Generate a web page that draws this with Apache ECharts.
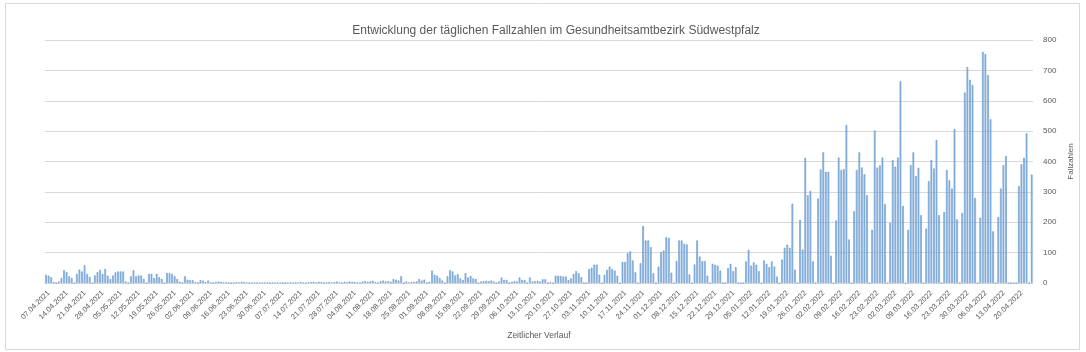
<!DOCTYPE html>
<html>
<head>
<meta charset="utf-8">
<script src="https://cdn.jsdelivr.net/npm/echarts@6/dist/echarts.min.js"></script>
<style>
  html, body { margin: 0; padding: 0; background: #fff; }
  #chart { width: 1086px; height: 352px; }
</style>
</head>
<body>
<div id="chart"></div>
<script>
// Tägliche Fallzahlen, ab 07.04.2021, ein Wert pro Tag
const apr21 = [27, 24, 19, 3, 0, 5, 16, 42, 36, 22, 16, 0, 30, 44, 38, 58, 30, 20, 0, 25, 36, 43, 30, 46]
const mai21 = [24, 13, 25, 35, 38, 38, 38, 5, 0, 22, 42, 22, 25, 25, 13, 0, 30, 30, 16, 30, 19, 13, 0, 33, 33, 30, 22, 13, 4, 0, 22]
const jun21 = [11, 9, 9, 3, 0, 9, 8, 3, 8, 2, 0, 3, 5, 4, 2, 3, 1, 0, 2, 3, 2, 4, 3, 2, 0, 1, 2, 1, 2, 1]
const jul21 = [2, 1, 0, 1, 1, 2, 1, 0, 0, 1, 2, 1, 1, 2, 3, 1, 0, 2, 3, 4, 2, 4, 3, 0, 2, 3, 2, 3, 5, 2, 0]
const aug21 = [4, 3, 5, 4, 3, 2, 0, 5, 6, 4, 5, 7, 3, 0, 6, 8, 5, 6, 4, 13, 11, 8, 22, 0, 5, 2, 3, 4, 5, 13, 8]
const sep21 = [11, 0, 4, 41, 27, 24, 16, 8, 0, 22, 42, 38, 25, 29, 15, 10, 32, 18, 23, 15, 13, 0, 5, 6, 7, 6, 8, 5, 0, 5]
const okt21 = [18, 10, 10, 0, 4, 6, 5, 18, 10, 10, 0, 18, 5, 6, 7, 5, 12, 12, 0, 3, 0, 24, 24, 23, 21, 21, 10, 15, 30, 39, 32]
const nov21 = [19, 0, 0, 46, 50, 60, 60, 27, 0, 27, 43, 54, 46, 41, 24, 0, 69, 69, 98, 104, 74, 35, 0, 65, 188, 140, 140, 118, 32, 0]
const dez21 = [54, 102, 107, 151, 148, 34, 0, 72, 140, 140, 129, 127, 28, 0, 61, 140, 87, 72, 72, 24, 0, 63, 60, 57, 41, 0, 0, 49, 63, 39, 52]
const jan22 = [0, 0, 0, 71, 109, 57, 68, 60, 39, 0, 74, 63, 52, 71, 54, 21, 0, 77, 116, 126, 116, 261, 44, 0, 208, 110, 412, 289, 303, 71, 0]
const feb22 = [278, 374, 430, 366, 366, 90, 0, 206, 413, 372, 375, 520, 143, 0, 236, 372, 430, 380, 358, 289, 0, 175, 502, 380, 387, 413, 259, 0]
const mrz22 = [198, 405, 383, 413, 664, 254, 0, 175, 388, 430, 352, 379, 223, 0, 179, 335, 405, 377, 471, 223, 0, 234, 372, 338, 311, 507, 209, 0, 230, 627, 711]
const apr22 = [669, 652, 280, 0, 215, 761, 754, 684, 539, 170, 0, 217, 311, 388, 418, 0, 0, 0, 0, 319, 391, 412, 493, 0, 357]

const fallzahlen = [].concat(apr21, mai21, jun21, jul21, aug21, sep21, okt21, nov21, dez21, jan22, feb22, mrz22, apr22)

// Datumsachse: ein Eintrag je Tag ab 07.04.2021
const startDatum = Date.UTC(2021, 3, 7)
const tage = []
for (let i = 0; i < fallzahlen.length; i++) {
  const d = new Date(startDatum + i * 86400000)
  const tt = String(d.getUTCDate()).padStart(2, '0')
  const mm = String(d.getUTCMonth() + 1).padStart(2, '0')
  tage.push(tt + '.' + mm + '.' + d.getUTCFullYear())
}

const chart = echarts.init(document.getElementById('chart'))
chart.setOption({
  animation: false,
  textStyle: { fontFamily: 'Liberation Sans, Arial, sans-serif' },
  title: {
    text: 'Entwicklung der täglichen Fallzahlen im Gesundheitsamtbezirk Südwestpfalz',
    left: 551,
    top: 20,
    textAlign: 'center',
    textStyle: { fontSize: 12, fontWeight: 'normal', color: '#595959' }
  },
  graphic: [{
    type: 'rect',
    shape: { x: 5.5, y: 3.5, width: 1074, height: 346 },
    style: { fill: 'none', stroke: '#d9d9d9', lineWidth: 1 },
    silent: true
  }],
  grid: { left: 44.7, right: 53, top: 40, bottom: 69 },
  xAxis: {
    type: 'category',
    data: tage,
    name: 'Zeitlicher Verlauf',
    nameLocation: 'middle',
    nameGap: 48,
    nameTextStyle: { fontSize: 8.5, color: '#595959' },
    axisLine: { lineStyle: { color: '#d9d9d9' } },
    axisTick: { show: false },
    axisLabel: { interval: 6, rotate: 45, fontSize: 7.5, color: '#595959', margin: 6, verticalAlign: 'top' }
  },
  yAxis: {
    type: 'value',
    position: 'right',
    min: 0,
    max: 800,
    interval: 100,
    name: 'Fallzahlen',
    nameLocation: 'middle',
    nameRotate: 90,
    nameGap: 25,
    nameTextStyle: { fontSize: 8, color: '#595959' },
    axisLine: { show: false },
    axisTick: { show: false },
    axisLabel: { fontSize: 8, color: '#595959', margin: 10 },
    splitLine: { lineStyle: { color: '#d9d9d9' } }
  },
  series: [{
    name: 'Fallzahlen',
    type: 'bar',
    data: fallzahlen,
    barWidth: 1.6,
    itemStyle: { color: '#9dc3e6', borderColor: '#4f86c6', borderWidth: 0.5 }
  }]
})
</script>
</body>
</html>
